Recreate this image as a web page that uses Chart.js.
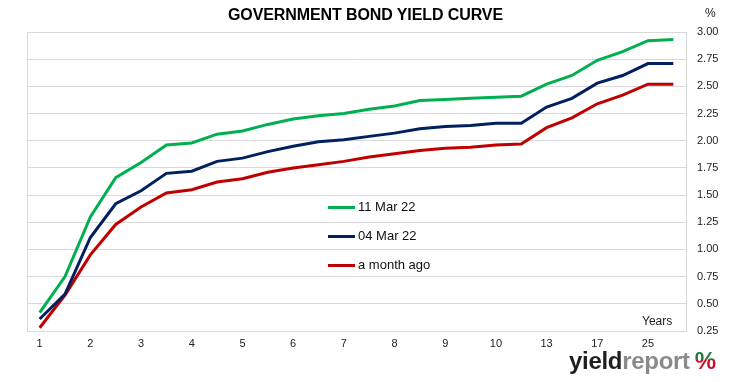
<!DOCTYPE html>
<html>
<head>
<meta charset="utf-8">
<script src="https://cdn.jsdelivr.net/npm/chart.js@4/dist/chart.umd.min.js"></script>
<style>
  html, body { margin:0; padding:0; background:#fff; }
  #wrap { position:relative; width:731px; height:382px; overflow:hidden; }
  canvas { position:absolute; left:0; top:0; }
  .txt { position:absolute; white-space:nowrap; color:#000; }
  #title { left:228px; top:6px; font-family:'Liberation Sans',sans-serif; font-weight:bold; font-size:16px; letter-spacing:-0.1px; }
  #pct { left:705px; top:6px; font-family:'Liberation Sans',sans-serif; font-size:12px; color:#222; }
  #years { left:642px; top:314px; font-family:'Liberation Sans',sans-serif; font-size:12px; color:#222; }
  #legend { position:absolute; left:328px; top:198px; }
  .li { position:relative; height:29px; width:120px; }
  .li .sw { position:absolute; left:0; top:8px; width:27px; height:3px; }
  .li .lt { position:absolute; left:30px; top:0; white-space:nowrap; font-family:'Liberation Sans',sans-serif; font-size:13px; color:#111; line-height:17px; }
  #logo { left:569px; top:348px; font-family:'Liberation Sans',sans-serif; font-weight:bold; font-size:24px; letter-spacing:-0.3px; line-height:26px; }
  #logo .a { color:#1f1f1f; }
  #logo .b { color:#8a8a8a; }
  #logo .c { margin-left:5px; background:linear-gradient(to bottom,#1e7a3c 0%,#1e7a3c 50%,#c8102e 50%,#c8102e 100%); -webkit-background-clip:text; background-clip:text; color:transparent; }
</style>
</head>
<body>
<div id="wrap">
  <canvas id="c" width="731" height="382"></canvas>
  <div class="txt" id="title">GOVERNMENT BOND YIELD CURVE</div>
  <div class="txt" id="pct">%</div>
  <div class="txt" id="years">Years</div>
  <div id="legend"></div>
  <div class="txt" id="logo"><span class="a">yield</span><span class="b">report</span><span class="c">%</span></div>
</div>
<script>
const categories = ['1','1.5','2','2.5','3','3.5','4','4.5','5','5.5','6','6.5','7','7.5','8','8.5','9','9.5','10','12','13','15','17','20','25','30'];
const seriesNames = ['11 Mar 22', '04 Mar 22', 'a month ago'];
const mar11 = [0.42,0.75,1.30,1.66,1.80,1.96,1.98,2.06,2.09,2.15,2.20,2.23,2.25,2.29,2.32,2.37,2.38,2.39,2.40,2.41,2.52,2.60,2.74,2.82,2.92,2.93];
const mar04 = [0.36,0.59,1.11,1.42,1.54,1.70,1.72,1.81,1.84,1.90,1.95,1.99,2.01,2.04,2.07,2.11,2.13,2.14,2.16,2.16,2.31,2.39,2.53,2.60,2.71,2.71];
const monthAgo = [0.28,0.58,0.95,1.23,1.39,1.52,1.55,1.62,1.65,1.71,1.75,1.78,1.81,1.85,1.88,1.91,1.93,1.94,1.96,1.97,2.12,2.21,2.34,2.42,2.52,2.52];
const yTicks = [0.25,0.50,0.75,1.00,1.25,1.50,1.75,2.00,2.25,2.50,2.75,3.00];
const colors = ['#00B050', '#002060', '#C00000'];

const frame = {
  id: 'frame',
  afterDraw(chart) {
    const a = chart.chartArea, ctx = chart.ctx;
    ctx.save();
    ctx.strokeStyle = '#D9D9D9';
    ctx.lineWidth = 1;
    ctx.strokeRect(Math.round(a.left) + 0.5, Math.round(a.top) + 0.5, Math.round(a.right - a.left), Math.round(a.bottom - a.top));
    ctx.restore();
  }
};

const series = [mar11, mar04, monthAgo];
new Chart(document.getElementById('c'), {
  type: 'line',
  data: {
    labels: categories,
    datasets: series.map((d, i) => ({
      label: seriesNames[i],
      data: d,
      borderColor: colors[i],
      backgroundColor: colors[i],
      borderWidth: 3,
      pointRadius: 0,
      tension: 0,
      fill: false
    }))
  },
  options: {
    responsive: false,
    animation: false,
    layout: { padding: { left: 27, top: 32, right: 0, bottom: 0 } },
    plugins: { legend: { display: false }, title: { display: false }, tooltip: { enabled: false } },
    scales: {
      x: {
        type: 'category',
        offset: true,
        grid: { display: false, drawTicks: false },
        border: { display: false },
        afterFit(s) { s.height = 51; },
        ticks: {
          autoSkip: false, maxRotation: 0, minRotation: 0, padding: 6,
          color: '#222',
          font: { family: "'Liberation Sans',sans-serif", size: 11 },
          callback(v, i) { return i % 2 === 0 ? categories[i] : ''; }
        }
      },
      y: {
        position: 'right',
        min: yTicks[0], max: yTicks[yTicks.length - 1],
        afterBuildTicks(s) { s.ticks = yTicks.map(v => ({ value: v })); },
        afterFit(s) { s.width = 45; },
        grid: { color: '#D9D9D9', lineWidth: 1, drawTicks: false },
        border: { display: false },
        ticks: {
          padding: 11,
          color: '#222',
          font: { family: "'Liberation Sans',sans-serif", size: 11 },
          callback(v) { return Number(v).toFixed(2); }
        }
      }
    }
  },
  plugins: [frame]
});

const leg = document.getElementById('legend');
seriesNames.forEach((n, i) => {
  const row = document.createElement('div');
  row.className = 'li';
  row.innerHTML = '<div class="sw" style="background:' + colors[i] + '"></div><div class="lt"></div>';
  row.querySelector('.lt').textContent = n;
  leg.appendChild(row);
});
</script>
</body>
</html>
